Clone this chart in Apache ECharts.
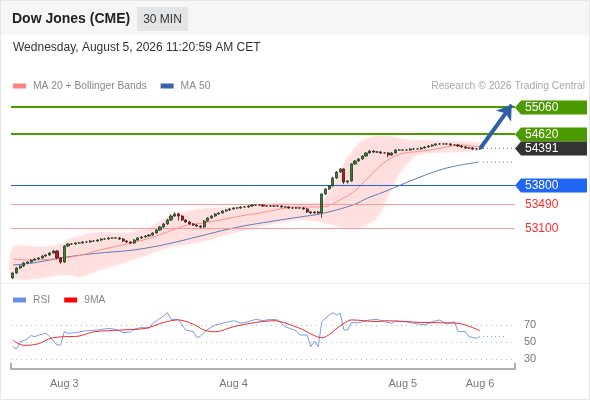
<!DOCTYPE html>
<html>
<head>
<meta charset="utf-8">
<script src="https://cdn.jsdelivr.net/npm/echarts@6/dist/echarts.min.js"></script>
<style>
  html, body { margin: 0; padding: 0; background: #fff; }
  #c { width: 590px; height: 400px; }
</style>
</head>
<body>
<div id="c"></div>
<script>
// 30 min candles
const firstOpen = 52290
const closes = [
  52371, 52452, 52484, 52533, 52549, 52581, 52598, 52614, 52646, 52662, 52695, 52727, 52614, 52549, 52808, 52841,
  52841, 52857, 52857, 52873, 52873, 52889, 52889, 52905, 52922, 52922, 52938, 52938, 52938, 52922, 52889, 52873,
  52857, 52905, 52938, 52954, 52970, 52986, 53019, 53067, 53116, 53165, 53229, 53294, 53327, 53294, 53229, 53197,
  53165, 53148, 53132, 53116, 53213, 53262, 53294, 53327, 53343, 53375, 53391, 53408, 53424, 53424, 53440, 53440,
  53456, 53472, 53472, 53472, 53456, 53456, 53456, 53456, 53456, 53440, 53440, 53424, 53424, 53424, 53424, 53408,
  53359, 53343, 53359, 53343, 53651, 53732, 53780, 53910, 54007, 54056, 53845, 53861, 54137, 54185, 54218, 54266,
  54315, 54347, 54331, 54331, 54315, 54315, 54282, 54315, 54363, 54363, 54363, 54363, 54380, 54380, 54380, 54396,
  54412, 54428, 54444, 54461, 54461, 54461, 54461, 54444, 54444, 54428, 54412, 54396, 54396, 54380, 54380, 54391
]
const wickUp = [
  10, 15, 15, 15, 15, 15, 15, 15, 15, 15, 15, 20, 15, 15, 15, 15,
  15, 15, 15, 15, 15, 15, 15, 15, 15, 15, 15, 15, 15, 15, 15, 15,
  15, 15, 15, 15, 15, 15, 15, 15, 15, 15, 20, 25, 30, 25, 15, 15,
  15, 15, 15, 15, 15, 15, 15, 15, 15, 15, 15, 15, 15, 15, 15, 15,
  15, 15, 15, 15, 15, 15, 15, 15, 15, 15, 15, 15, 15, 15, 15, 15,
  15, 15, 15, 15, 10, 15, 15, 20, 15, 15, 10, 15, 15, 15, 15, 15,
  15, 20, 15, 15, 15, 15, 15, 15, 15, 15, 15, 15, 15, 15, 15, 15,
  15, 15, 15, 15, 15, 15, 15, 15, 15, 15, 15, 15, 15, 15, 15, 15
]
const wickDn = [
  20, 15, 15, 15, 15, 15, 15, 15, 15, 15, 15, 15, 25, 30, 15, 15,
  15, 15, 15, 15, 15, 15, 15, 15, 15, 15, 15, 15, 15, 15, 15, 15,
  20, 15, 15, 15, 15, 15, 15, 15, 15, 15, 15, 15, 15, 75, 15, 15,
  15, 15, 15, 20, 15, 15, 15, 15, 15, 15, 15, 15, 15, 15, 15, 15,
  15, 15, 15, 15, 15, 15, 15, 15, 15, 15, 15, 15, 15, 15, 15, 15,
  15, 20, 15, 15, 80, 15, 15, 15, 15, 15, 35, 25, 15, 15, 15, 15,
  15, 15, 15, 15, 15, 15, 40, 15, 15, 15, 15, 15, 15, 15, 15, 15,
  15, 15, 15, 15, 15, 15, 15, 15, 15, 15, 15, 15, 15, 15, 15, 15
]

// indicators: [candle index, value]
const ma20 = [
  [0, 52598], [4.6, 52581], [10.9, 52598], [17.4, 52646], [23.7, 52743], [31, 52841], [37.3, 52938],
  [42, 53035], [47.4, 53148], [51.8, 53181], [56.4, 53229], [61.9, 53294], [67.3, 53343], [72.8, 53408],
  [77.4, 53440], [83.7, 53440], [89.9, 53586], [93.2, 53715], [96.5, 53910], [100.8, 54153], [105.4, 54299],
  [111.7, 54347], [116.4, 54396], [121.8, 54444], [126.7, 54412]
]
const ma50 = [
  [0, 52500], [5.4, 52533], [14.7, 52630], [23.7, 52695], [32.7, 52743], [42, 52841], [51, 52970],
  [60, 53100], [69.2, 53197], [78.2, 53280], [83.7, 53330], [92.4, 53472], [96.5, 53586], [100.8, 53683],
  [105.4, 53796], [110.1, 53910], [114.4, 54007], [119.1, 54088], [126.7, 54169]
]
const bbUpper = [
  [0, 52792], [7.4, 52792], [13.6, 52850], [14.7, 52905], [21.3, 53019], [26.4, 53030], [31, 53019],
  [37.3, 53116], [42, 53278], [46.3, 53359], [52.9, 53424], [60, 53440], [69.2, 53505], [78.2, 53505],
  [82.3, 53500], [84.5, 53553], [89, 54040], [91.8, 54315], [94.5, 54493], [97.3, 54574], [100, 54606],
  [103.5, 54574], [108.2, 54525], [111.7, 54525], [116.3, 54509], [127.2, 54477]
]
const bbLower = [
  [0, 52290], [14.7, 52338], [18.3, 52306], [23.7, 52419], [32.7, 52581], [42, 52776], [51, 52873],
  [60, 53019], [69.2, 53150], [78.2, 53230], [83.6, 53200], [89.1, 53116], [94.5, 53116], [99.2, 53278],
  [101.9, 53602], [104.6, 53926], [107.4, 54153], [110.1, 54282], [114.4, 54315], [127.2, 54363]
]
const rsi = [
  [0, 44.5], [1, 41.8], [2, 50.4], [3.5, 52.4], [5, 57.5], [6, 56.3], [7, 58.2], [9, 60.2], [10, 56.3],
  [12, 46.5], [13, 46.5], [14, 62.2], [15, 60.2], [17, 61], [20, 63.3], [23, 64.1], [26, 66], [28, 64.9],
  [30, 61], [32, 61.8], [33, 64.9], [35, 67.3], [37, 66], [38, 72], [40, 77.8], [41, 80.6], [42, 84.5],
  [43, 76.7], [45, 76.7], [46, 70], [47, 64.1], [49, 62.2], [50, 55.1], [51, 57], [53, 64.9], [55, 70],
  [58, 73.1], [60, 75.1], [62, 72], [64, 73.9], [66, 76.7], [68, 75.1], [70, 76.7], [72, 75.9], [74, 68],
  [77, 63.3], [78, 58.2], [80, 58.2], [81, 44.5], [82, 51.2], [83, 44.5], [84, 73.9], [86, 81.8], [87, 84.5],
  [88, 81.8], [89, 83.7], [90, 64.1], [91, 64.1], [92, 72.7], [94, 72.7], [97, 75.9], [99, 76.7], [101, 73.9],
  [103, 72], [104, 74.7], [107, 73.9], [109, 72], [112, 70], [114, 73.9], [116, 75.9], [118, 71.2], [120, 73.9],
  [121, 62.2], [123, 62.2], [124, 56.3], [126, 54.3], [127, 56.3]
]
const rsiMa = [
  [0, 52], [2, 47], [3.5, 46], [7, 48], [10, 54], [13, 56], [18, 57], [22, 62], [29, 64], [36, 66],
  [41, 73], [45, 76], [49, 71], [52, 64], [55, 62], [60, 68], [66, 73], [71, 75], [78, 66], [84, 55],
  [89, 69], [92, 76], [99, 74], [101, 75], [111, 73], [121, 72], [125, 67], [127, 63]
]

// levels and forecast
const levels = [55060, 54620, 54391, 53800, 53490, 53100]
const levelKind = ['res', 'res', 'last', 'pivot', 'sup', 'sup']
const forecast = [[127.6, 54391], [136.1, 55095]]
const rsiLevels = [70, 50, 30]

const tickIdx = [14, 60, 106, 127]
const tickNames = ['Aug 3', 'Aug 4', 'Aug 5', 'Aug 6']
const slots = 137

const cats = []
for (let i = 0; i < slots; i++) {
  const k = tickIdx.indexOf(i)
  cats.push(k >= 0 ? tickNames[k] : '')
}
const candles = closes.map((c, i) => {
  const o = i ? closes[i - 1] : firstOpen
  return [o, c, Math.min(o, c) - wickDn[i], Math.max(o, c) + wickUp[i]]
})
const u = (pts) => pts.map(p => [p[0] + 0.5, p[1]])

const FONT = 'Liberation Sans, Arial, sans-serif'
const tagColor = { res: '#4a9a00', last: '#333333', pivot: '#1f66f5', sup: null }
const lineStyles = {
  res: { color: '#4c9a00', width: 2, type: 'solid' },
  pivot: { color: '#2160e0', width: 1.2, type: 'solid' },
  sup: { color: '#ff9a9a', width: 1.2, type: 'solid' }
}
const legendText = { color: '#888', fontSize: 10.3, fontFamily: FONT, padding: [0, 0, 0, 2] }

const chart = echarts.init(document.getElementById('c'), null, { renderer: 'canvas' })

const lastClose = closes[closes.length - 1]
const lastMa50 = ma50[ma50.length - 1][1]
const lastRsi = rsi[rsi.length - 1][1]

chart.setOption({
  animation: false,
  textStyle: { fontFamily: FONT },
  graphic: [
    { type: 'rect', shape: { x: 0, y: 0, width: 590, height: 35 }, style: { fill: '#f6f6f6' }, z: -10 },
    { type: 'rect', shape: { x: 0.5, y: 0.5, width: 589, height: 399 }, style: { fill: 'none', stroke: '#e6e6e6', lineWidth: 1 }, z: 100 },
    { type: 'line', shape: { x1: 0, y1: 283.5, x2: 590, y2: 283.5 }, style: { stroke: '#eeeeee', lineWidth: 1 } },
    { type: 'text', x: 12, y: 19, style: { text: 'Dow Jones (CME)', font: 'bold 14px ' + FONT, fill: '#222', textVerticalAlign: 'middle' } },
    { type: 'rect', shape: { x: 137, y: 7, width: 51, height: 24 }, style: { fill: '#e2e4e6' } },
    { type: 'text', x: 162.5, y: 19.5, style: { text: '30 MIN', font: '12px ' + FONT, fill: '#333', textAlign: 'center', textVerticalAlign: 'middle' } },
    { type: 'text', x: 13, y: 48, style: { text: 'Wednesday, August 5, 2026 11:20:59 AM CET', font: '12px ' + FONT, fill: '#333', textVerticalAlign: 'middle' } },
    { type: 'text', x: 585, y: 86, style: { text: 'Research \u00a9 2026 Trading Central', font: '10.3px ' + FONT, fill: '#a8a8a8', textAlign: 'right', textVerticalAlign: 'middle' } }
  ],
  legend: [
    {
      data: ['MA 20 + Bollinger Bands', 'MA 50'], left: 13, top: 81, padding: 0, icon: 'rect',
      itemWidth: 13, itemHeight: 5, itemGap: 14, selectedMode: false, textStyle: legendText
    },
    {
      data: ['RSI', '9MA'], left: 13, top: 295, padding: 0, icon: 'rect',
      itemWidth: 13, itemHeight: 5, itemGap: 14, selectedMode: false, textStyle: legendText
    }
  ],
  grid: [
    { left: 11, width: 504, top: 95, height: 187 },
    { left: 11, width: 504, top: 308, height: 61 }
  ],
  xAxis: [
    { type: 'category', gridIndex: 0, data: cats, boundaryGap: true, show: false },
    { type: 'value', gridIndex: 0, min: 0, max: slots, show: false },
    {
      type: 'category', gridIndex: 1, data: cats, boundaryGap: true, position: 'bottom',
      axisLine: { lineStyle: { color: '#b0b0b0', width: 2 } },
      axisTick: { show: false },
      axisLabel: {
        interval: (i) => tickIdx.indexOf(i) >= 0, color: '#777', fontSize: 11, margin: 9,
        fontFamily: FONT
      }
    },
    {
      type: 'value', gridIndex: 1, min: 0, max: slots, interval: slots, position: 'bottom',
      axisLine: { show: false }, axisLabel: { show: false }, splitLine: { show: false },
      axisTick: { show: true, inside: true, length: 6, lineStyle: { color: '#b0b0b0', width: 2 } }
    }
  ],
  yAxis: [
    { type: 'value', gridIndex: 0, min: 52225, max: 55254, show: false },
    { type: 'value', gridIndex: 1, min: 18.2, max: 90, show: false }
  ],
  series: [
    {
      type: 'custom', name: 'bands', xAxisIndex: 1, yAxisIndex: 0, silent: true, z: 1,
      data: [[0, 53000]],
      renderItem: (params, api) => {
        const up = u(bbUpper).map(p => api.coord(p))
        const lo = u(bbLower).reverse().map(p => api.coord(p))
        return {
          type: 'polygon',
          shape: { points: up.concat(lo), smooth: 0.3 },
          style: { fill: 'rgba(255,175,175,0.3)', shadowBlur: 6, shadowColor: 'rgba(255,175,175,0.5)' }
        }
      }
    },
    {
      type: 'line', name: 'MA 50', xAxisIndex: 1, yAxisIndex: 0, data: u(ma50), smooth: 0.4,
      showSymbol: false, z: 2, color: '#3d62a6', lineStyle: { color: '#5a7cb8', width: 1 }
    },
    {
      type: 'line', name: 'MA 20 + Bollinger Bands', xAxisIndex: 1, yAxisIndex: 0, data: u(ma20), smooth: 0.4,
      showSymbol: false, z: 2, color: '#ff8080', lineStyle: { color: '#ff8e8e', width: 1 }
    },
    {
      type: 'candlestick', name: 'Dow', xAxisIndex: 0, yAxisIndex: 0, data: candles, z: 4,
      barWidth: 2.6,
      itemStyle: { color: '#2f8a2f', color0: '#d01010', borderColor: '#263826', borderColor0: '#3a1c1c', borderWidth: 0.8 },
      markLine: {
        silent: true, symbol: 'none', label: { show: false }, z: 3,
        data: levels.map((v, k) => ({ yAxis: v, kind: levelKind[k] }))
          .filter(d => d.kind !== 'last')
          .map(d => ({ yAxis: d.yAxis, lineStyle: lineStyles[d.kind] }))
      }
    },
    {
      type: 'line', name: 'lastDots', xAxisIndex: 1, yAxisIndex: 0, silent: true, showSymbol: false, z: 3,
      data: [[closes.length + 0.3, lastClose], [slots, lastClose]],
      lineStyle: { color: '#666', width: 1, type: [1, 3] }
    },
    {
      type: 'line', name: 'ma50Dots', xAxisIndex: 1, yAxisIndex: 0, silent: true, showSymbol: false, z: 3,
      data: [[closes.length + 0.3, lastMa50], [slots, lastMa50]],
      lineStyle: { color: '#5a7cb8', width: 1, type: [1, 3] }
    },
    {
      type: 'line', name: 'forecast', xAxisIndex: 1, yAxisIndex: 0, silent: true, data: [], z: 6,
      markLine: {
        silent: true, symbol: ['none', 'arrow'], symbolSize: 14, label: { show: false },
        lineStyle: { color: '#2d5fa5', width: 4, type: 'solid' },
        data: [[{ coord: forecast[0] }, { coord: forecast[1] }]]
      }
    },
    {
      type: 'custom', name: 'tags', xAxisIndex: 1, yAxisIndex: 0, silent: true, z: 10,
      data: levels.map((v, k) => [k, v]),
      renderItem: (params, api) => {
        const k = api.value(0)
        const v = api.value(1)
        const y = Math.round(api.coord([0, v])[1]) + 0.5
        const x0 = params.coordSys.x + params.coordSys.width
        const kind = levelKind[k]
        const fill = tagColor[kind]
        const children = []
        if (fill) {
          children.push({
            type: 'polygon',
            shape: { points: [[x0, y], [x0 + 6, y - 7], [x0 + 72, y - 7], [x0 + 72, y + 7], [x0 + 6, y + 7]] },
            style: { fill: fill }
          })
        }
        children.push({
          type: 'text', x: x0 + 10, y: y,
          style: { text: String(v), font: '12px ' + FONT, fill: fill ? '#fff' : '#ff2a2a', textVerticalAlign: 'middle' }
        })
        return { type: 'group', children: children }
      }
    },
    {
      type: 'line', name: 'RSI', xAxisIndex: 3, yAxisIndex: 1, data: u(rsi), showSymbol: false, z: 3,
      color: '#6a8ee8', lineStyle: { color: '#7b9aea', width: 1 },
      markLine: {
        silent: true, symbol: 'none', z: 1,
        lineStyle: { color: '#bbbbbb', width: 1, type: [1, 4] },
        label: { show: true, position: 'end', distance: 9, color: '#777', fontSize: 11, fontFamily: FONT, formatter: p => p.value },
        data: rsiLevels.map(v => ({ yAxis: v }))
      }
    },
    {
      type: 'line', name: '9MA', xAxisIndex: 3, yAxisIndex: 1, data: u(rsiMa), showSymbol: false, smooth: 0.3, z: 4,
      color: '#ff0000', lineStyle: { color: '#ee2a2a', width: 1 }
    },
    {
      type: 'line', name: 'rsiDots', xAxisIndex: 3, yAxisIndex: 1, silent: true, showSymbol: false, z: 2,
      data: [[closes.length + 0.3, lastRsi], [134, lastRsi]],
      lineStyle: { color: '#7b9aea', width: 1, type: [1, 3] }
    }
  ]
})
</script>
</body>
</html>
